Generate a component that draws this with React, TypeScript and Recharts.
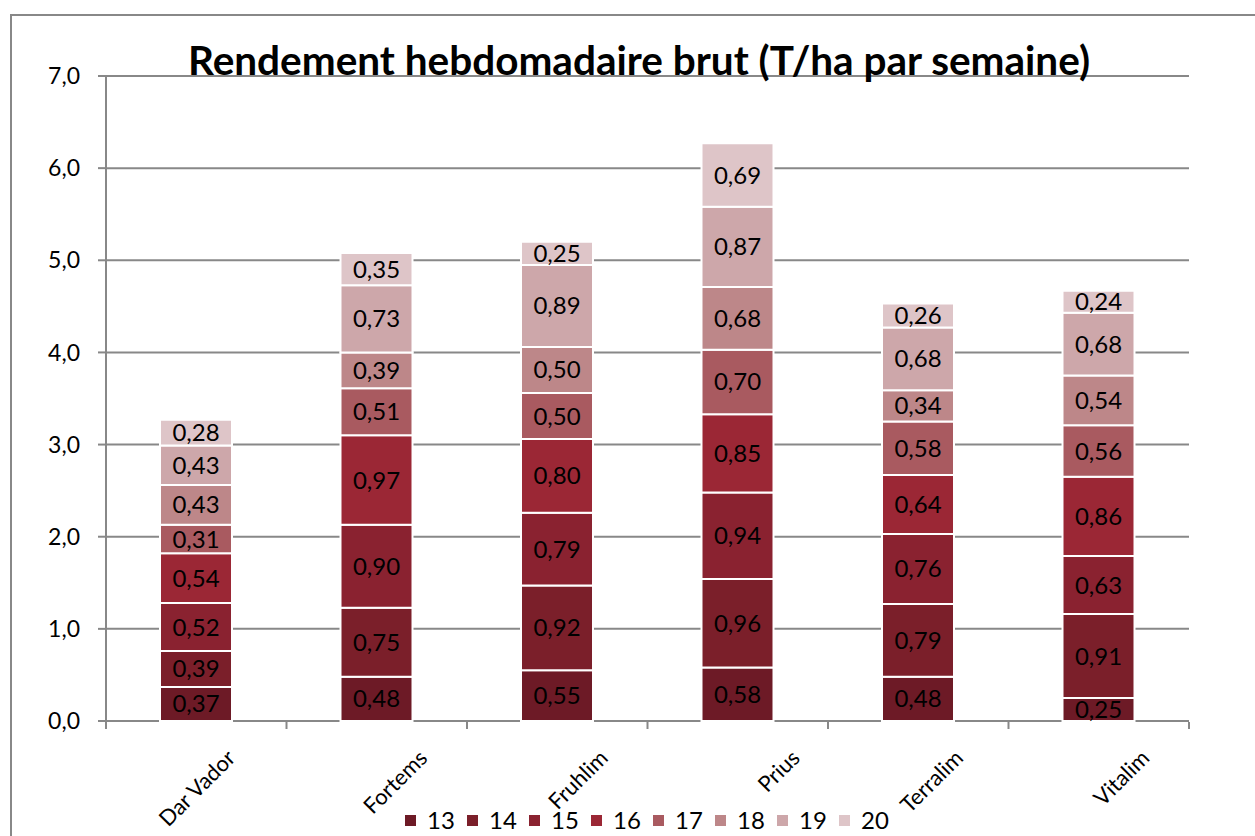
import { BarChart, Bar, XAxis, YAxis, CartesianGrid, LabelList, Legend } from 'recharts';

const varieties = ['Dar Vador', 'Fortems', 'Fruhlim', 'Prius', 'Terralim', 'Vitalim'];
const weeks = ['13', '14', '15', '16', '17', '18', '19', '20'];

const week13 = [0.37, 0.48, 0.55, 0.58, 0.48, 0.25];
const week14 = [0.39, 0.75, 0.92, 0.96, 0.79, 0.91];
const week15 = [0.52, 0.9, 0.79, 0.94, 0.76, 0.63];
const week16 = [0.54, 0.97, 0.8, 0.85, 0.64, 0.86];
const week17 = [0.31, 0.51, 0.5, 0.7, 0.58, 0.56];
const week18 = [0.43, 0.39, 0.5, 0.68, 0.34, 0.54];
const week19 = [0.43, 0.73, 0.89, 0.87, 0.68, 0.68];
const week20 = [0.28, 0.35, 0.25, 0.69, 0.26, 0.24];

const weekValues = [week13, week14, week15, week16, week17, week18, week19, week20];
const weekColors = ['#6d1a26', '#7b1f2a', '#8a2230', '#9b2735', '#a95a60', '#bd8789', '#cda7aa', '#dec5c8'];

const yTicks = [0, 1, 2, 3, 4, 5, 6, 7];
const edgeTicks = [0, 1, 2, 3, 4, 5, 6];

const data = varieties.map((name, i) => {
  const row: Record<string, string | number> = { name, pos: i + 0.5 };
  weeks.forEach((w, k) => {
    row['w' + w] = weekValues[k][i];
  });
  return row;
});

const FONT = 'Lato, "Open Sans", sans-serif';
const GRAY = '#888888';

const fmt = (v: number) => Number(v).toFixed(2).replace('.', ',');

// rotated labels: longer names sit a bit further left, like the original
const CategoryTick = (props: any) => {
  const { x, y, payload } = props;
  const n = String(payload.value).length;
  const px = x + 58 - 5.75 * (n - 5);
  const py = y + 33;
  return (
    <text
      x={px}
      y={py}
      dy="0.35em"
      textAnchor="end"
      transform={`rotate(-45 ${px} ${py})`}
      fontSize={22}
      fontFamily={FONT}
      fill="#000"
    >
      {payload.value}
    </text>
  );
};

const LegendContent = (props: any) => {
  const { payload } = props;
  return (
    <div style={{ display: 'flex', fontFamily: FONT, fontSize: 24, color: '#000', lineHeight: '28px' }}>
      {(payload || []).map((entry: any) => (
        <div key={entry.value} style={{ display: 'flex', alignItems: 'center', width: 62 }}>
          <span style={{ display: 'inline-block', width: 11, height: 11, background: entry.color, marginRight: 11 }} />
          <span>{entry.value}</span>
        </div>
      ))}
    </div>
  );
};

export default function App() {
  return (
    <div style={{ position: 'absolute', left: 0, top: 0, width: 1255, height: 836, overflow: 'hidden', background: '#fff' }}>
      <div
        style={{
          position: 'absolute',
          left: 10,
          top: 14,
          width: 1400,
          height: 1000,
          borderLeft: `2px solid ${GRAY}`,
          borderTop: `2px solid ${GRAY}`,
        }}
      />
      <BarChart
        width={1255}
        height={836}
        data={data}
        margin={{ top: 76, right: 66, bottom: 113, left: 0 }}
        style={{ position: 'absolute', left: 0, top: 0 }}
      >
        <CartesianGrid vertical={false} stroke={GRAY} strokeWidth={2} />
        <XAxis
          xAxisId="edge"
          dataKey="pos"
          type="number"
          domain={[0, 6]}
          ticks={edgeTicks}
          tick={() => <g />}
          axisLine={false}
          tickLine={{ stroke: GRAY, strokeWidth: 2 }}
          tickSize={7}
          height={1}
          padding={{ left: 0, right: 0 }}
          allowDataOverflow
        />
        <XAxis
          xAxisId="cat"
          dataKey="name"
          height={1}
          tickSize={0}
          tickMargin={0}
          tickLine={false}
          axisLine={false}
          tick={<CategoryTick />}
          interval={0}
        />
        <YAxis
          width={106}
          domain={[0, 7]}
          ticks={yTicks}
          tickFormatter={(v: number) => v.toFixed(1).replace('.', ',')}
          tickSize={8}
          tickMargin={18}
          axisLine={{ stroke: GRAY, strokeWidth: 2 }}
          tickLine={{ stroke: GRAY, strokeWidth: 2 }}
          tick={{ fill: '#000', fontSize: 23, fontFamily: FONT }}
        />
        <Legend
          verticalAlign="middle"
          align="center"
          layout="horizontal"
          wrapperStyle={{ position: 'absolute', left: 405, top: 806, width: 'auto' }}
          content={<LegendContent />}
        />
        {weeks.map((w, k) => (
          <Bar
            key={w}
            xAxisId="cat"
            dataKey={'w' + w}
            name={w}
            stackId="a"
            fill={weekColors[k]}
            stroke="#fff"
            strokeWidth={2}
            barSize={72}
            isAnimationActive={false}
          >
            <LabelList
              dataKey={'w' + w}
              position="center"
              formatter={fmt as any}
              fill="#000"
              fontSize={24}
              fontFamily={FONT}
            />
          </Bar>
        ))}
      </BarChart>
      <svg width={1255} height={836} style={{ position: 'absolute', left: 0, top: 0, pointerEvents: 'none' }}>
        <text x={639} y={75} textAnchor="middle" fontSize={40.5} fontWeight="bold" fontFamily={FONT} fill="#000">
          Rendement hebdomadaire brut (T/ha par semaine)
        </text>
      </svg>
    </div>
  );
}
